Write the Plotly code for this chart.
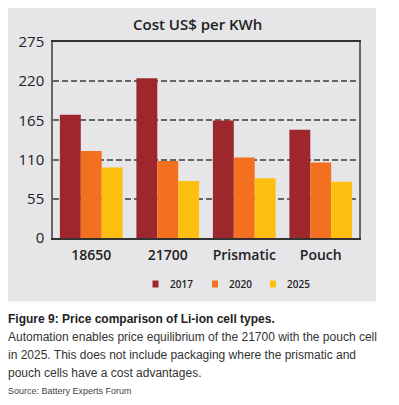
import plotly.graph_objects as go

categories = ["18650", "21700", "Prismatic", "Pouch"]
years = ["2017", "2020", "2025"]
values_2017 = [173, 224, 165, 152]
values_2020 = [122, 108, 113, 106]
values_2025 = [99, 80, 84, 79]
tick_vals = [0, 55, 110, 165, 220, 275]
colors = ["#9E272E", "#F37021", "#FDC010"]

O = 8  # page body margin offset
W, H = 399 - O, 405 - O
L, R, T, B = 53 - O, 359 - O, 42 - O, 238 - O  # plot area in figure pixels
pw, ph = R - L, B - T

def px(x):  # x given in page pixels
    return (x - O - L) / pw

def py(y):
    return (B - (y - O)) / ph

fig = go.Figure()
for name, vals, c in zip(years, [values_2017, values_2020, values_2025], colors):
    fig.add_trace(go.Bar(x=categories, y=vals, name=name, marker_color=c,
                         marker_line_width=0, showlegend=False))

bg = "#E6E6E8"
shapes = [dict(type="rect", xref="paper", yref="paper", layer="below",
               x0=px(6), x1=px(376), y0=py(301.5), y1=py(4),
               fillcolor=bg, line_width=0)]
ann = []
# manual legend
leg_x = [155.5, 215, 273]
for name, c, lx in zip(years, colors, leg_x):
    shapes.append(dict(type="rect", xref="paper", yref="paper",
                       x0=px(lx - 3), x1=px(lx + 3), y0=py(287.5), y1=py(280.5),
                       fillcolor=c, line_width=0))
    ann.append(dict(text=name, x=px(lx + 12), y=py(284), xanchor="left", yanchor="middle",
                    font=dict(size=10, weight=600, color="#222")))

fig.update_layout(
    width=W, height=H,
    margin=dict(l=L, r=W - R, t=T, b=H - B),
    paper_bgcolor="white",
    plot_bgcolor=bg,
    barmode="group",
    bargap=0.18,
    bargroupgap=0,
    font=dict(family="Open Sans", color="#222"),
    showlegend=False,
    shapes=shapes,
)
fig.update_yaxes(range=[0, 275], tickvals=tick_vals, showgrid=True,
                 gridcolor="#666", griddash="6px,3px", gridwidth=1.5,
                 showline=True, linecolor="#666", linewidth=1.5, mirror=True,
                 ticks="", tickfont=dict(size=15, color="#222"), zeroline=False,
                 ticklabelstandoff=4, fixedrange=True, automargin=False)
fig.update_xaxes(showline=True, linecolor="#333", linewidth=2, mirror=True,
                 ticks="", tickfont=dict(size=14, color="#222", weight=600),
                 ticklabelstandoff=3, fixedrange=True, automargin=False)

cap_font = "Liberation Sans, Arial"
ann += [
    dict(text="Cost US$ per KWh", x=px(197.5), y=py(24), font=dict(size=15, weight=600, color="#222"),
         xanchor="center", yanchor="middle"),
    dict(text="<b>Figure 9: Price comparison of Li-ion cell types.</b>", x=px(6), y=py(319),
         font=dict(size=12, family=cap_font, color="#222"), xanchor="left", yanchor="middle"),
    dict(text="Automation enables price equilibrium of the 21700 with the pouch cell", x=px(6), y=py(337),
         font=dict(size=12, family=cap_font, color="#333"), xanchor="left", yanchor="middle"),
    dict(text="in 2025. This does not include packaging where the prismatic and", x=px(6), y=py(355),
         font=dict(size=12, family=cap_font, color="#333"), xanchor="left", yanchor="middle"),
    dict(text="pouch cells have a cost advantages.", x=px(6), y=py(373),
         font=dict(size=12, family=cap_font, color="#333"), xanchor="left", yanchor="middle"),
    dict(text="Source: Battery Experts Forum", x=px(6), y=py(391),
         font=dict(size=9, family=cap_font, color="#444"), xanchor="left", yanchor="middle"),
]
for a in ann:
    a.update(xref="paper", yref="paper", showarrow=False)
fig.update_layout(annotations=ann)

fig.write_html("out.html")
